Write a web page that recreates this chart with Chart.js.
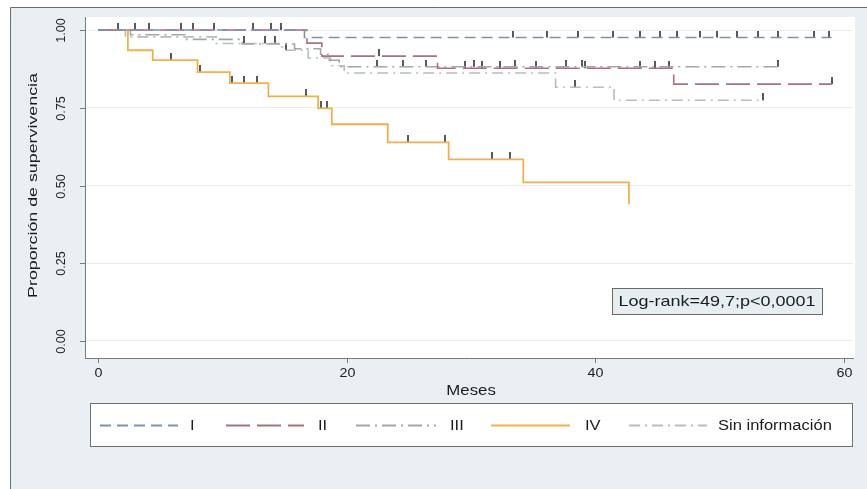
<!DOCTYPE html>
<html>
<head>
<meta charset="utf-8">
<script src="https://cdn.jsdelivr.net/npm/chart.js@4.4.1/dist/chart.umd.min.js"></script>
<style>
  html, body { margin: 0; padding: 0; background: #ffffff; }
  canvas { display: block; }
</style>
</head>
<body>
<canvas id="km" width="867" height="489"></canvas>
<script>
// Kaplan-Meier survival by stage: event times (months) and survival after each step
const stageLabels = ['I', 'II', 'III', 'IV', 'Sin información'];

const timesI = [0, 16.6, 59.0];
const survI  = [1, 0.976, 0.976];
const censI  = [1.6, 4.1, 6.7, 9.3, 12.5, 14.7, 33.4, 36.1, 38.6, 41.4, 43.6, 45.2, 46.6, 48.4, 49.8, 51.4, 53.1, 54.7, 57.6, 58.8];

const timesII = [0, 16.8, 18.0, 27.3, 46.3, 59.0];
const survII  = [1, 0.958, 0.916, 0.877, 0.826, 0.826];
const censII  = [3.0, 7.6, 13.9, 22.6, 29.5, 30.9, 32.3, 35.2, 39.2, 43.6, 44.8, 45.9, 59.0];

const timesIII = [0, 2.6, 7.0, 11.6, 15.8, 17.9, 18.6, 19.4, 54.7];
const survIII  = [1, 0.985, 0.970, 0.955, 0.940, 0.922, 0.903, 0.882, 0.882];
const censIII  = [22.4, 24.5, 26.4, 30.2, 33.5, 37.6, 38.9, 54.7];

const timesIV = [0, 2.4, 4.4, 8.0, 10.6, 13.7, 17.7, 18.8, 23.3, 28.2, 34.2, 42.7];
const survIV  = [1, 0.935, 0.903, 0.865, 0.829, 0.787, 0.748, 0.697, 0.639, 0.584, 0.510, 0.440];
const censIV  = [5.9, 8.2, 10.8, 11.7, 12.8, 16.7, 17.9, 18.4, 24.9, 27.9, 31.7, 33.1];

const timesSI = [0, 2.2, 9.5, 14.8, 16.9, 18.7, 19.8, 36.8, 41.5, 53.5];
const survSI  = [1, 0.978, 0.957, 0.935, 0.910, 0.885, 0.862, 0.816, 0.774, 0.774];
const censSI  = [11.7, 13.4, 14.2, 15.1, 38.4, 53.5];

const xTicks = [0, 20, 40, 60];
const yTicks = [0, 0.25, 0.5, 0.75, 1];
const yTickLabels = ['0.00', '0.25', '0.50', '0.75', '1.00'];
const xTitle = 'Meses';
const yTitle = 'Proporción de supervivencia';
const testText = 'Log-rank=49,7;p<0,0001';

// Styles per stage
const colors = ['#7d91ad', '#a8727a', '#9fa8ab', '#f0b052', '#b4bdc0'];
const dashes = [[11, 6], [24, 7], [14, 5, 2, 5], [], [11, 5, 2, 5]];

const series = [
  [timesI, survI, censI],
  [timesII, survII, censII],
  [timesIII, survIII, censIII],
  [timesIV, survIV, censIV],
  [timesSI, survSI, censSI]
];

function survAt(times, surv, t) {
  let s = surv[0];
  for (let i = 0; i < times.length; i++) if (times[i] <= t) s = surv[i];
  return s;
}

// Censoring tick: upper half of a short vertical bar, so it sits on top of the curve
const tick = document.createElement('canvas');
tick.width = 2; tick.height = 14;
(function () {
  const c = tick.getContext('2d');
  c.fillStyle = 'rgba(60,60,60,0.85)';
  c.fillRect(0, 0, 2, 7);
})();

const datasets = [];
series.forEach((s, i) => {
  datasets.push({
    label: stageLabels[i],
    data: s[0].map((t, k) => ({ x: t, y: s[1][k] })),
    borderColor: colors[i],
    borderWidth: i === 3 ? 1.8 : 1.6,
    borderDash: dashes[i],
    stepped: 'before',
    pointRadius: 0,
    fill: false
  });
});
series.forEach((s, i) => {
  datasets.push({
    label: stageLabels[i] + ' (censura)',
    data: s[2].map(t => ({ x: t, y: survAt(s[0], s[1], t) })),
    showLine: false,
    pointStyle: tick,
    pointRadius: 5,
    borderWidth: 0
  });
});

function txt(ctx, s, x, y, o) {
  o = o || {};
  ctx.save();
  ctx.translate(x, y);
  if (o.rot) ctx.rotate(o.rot);
  ctx.scale(o.sx || 1, 1);
  ctx.font = (o.size || 13) + 'px "Liberation Sans", Arial, sans-serif';
  ctx.textAlign = o.align || 'center';
  ctx.textBaseline = 'middle';
  ctx.fillStyle = o.color || '#1c1c1c';
  ctx.fillText(s, 0, 0);
  ctx.restore();
}

const frame = {
  id: 'frame',
  beforeDraw(chart) {
    const ctx = chart.ctx, a = chart.chartArea;
    ctx.save();
    ctx.fillStyle = '#ffffff';
    ctx.fillRect(0, 0, chart.width, chart.height);
    ctx.fillStyle = '#e9eff2';
    ctx.fillRect(10, 7, chart.width - 10, chart.height - 7);
    ctx.strokeStyle = '#6b6b6b';
    ctx.lineWidth = 1;
    ctx.beginPath();
    ctx.moveTo(10.5, chart.height);
    ctx.lineTo(10.5, 7.5);
    ctx.lineTo(chart.width, 7.5);
    ctx.stroke();
    ctx.fillStyle = '#ffffff';
    ctx.fillRect(a.left, a.top, a.right - a.left + 2, a.bottom - a.top);
    ctx.restore();
  },
  afterDraw(chart) {
    const ctx = chart.ctx, a = chart.chartArea;
    const xs = chart.scales.x, ys = chart.scales.y;
    ctx.save();
    ctx.strokeStyle = '#7a7a7a';
    ctx.lineWidth = 1;
    // tick marks and labels
    xTicks.forEach(v => {
      const px = Math.round(xs.getPixelForValue(v)) + 0.5;
      ctx.beginPath(); ctx.moveTo(px, a.bottom); ctx.lineTo(px, a.bottom + 5); ctx.stroke();
      txt(ctx, String(v), px, a.bottom + 15, { size: 13, sx: 1.1 });
    });
    yTicks.forEach((v, i) => {
      const py = Math.round(ys.getPixelForValue(v)) + 0.5;
      ctx.beginPath(); ctx.moveTo(a.left - 5, py); ctx.lineTo(a.left, py); ctx.stroke();
      txt(ctx, yTickLabels[i], a.left - 23, py, { size: 12, rot: -Math.PI / 2, sx: 1.05 });
    });
    txt(ctx, xTitle, (xs.getPixelForValue(0) + xs.getPixelForValue(60)) / 2, a.bottom + 33, { size: 14, sx: 1.2 });
    txt(ctx, yTitle, 33, (ys.getPixelForValue(0) + ys.getPixelForValue(1)) / 2, { size: 13.5, rot: -Math.PI / 2, sx: 1.32 });

    // test annotation
    ctx.fillStyle = '#e6eef1';
    ctx.fillRect(612, 288, 210, 26);
    ctx.strokeStyle = '#6a6a6a';
    ctx.strokeRect(612.5, 288.5, 210, 26);
    txt(ctx, testText, 717, 302, { size: 15, sx: 1.2 });

    // legend
    ctx.fillStyle = '#ffffff';
    ctx.fillRect(90, 403, 762, 43);
    ctx.strokeStyle = '#6f6f6f';
    ctx.strokeRect(90.5, 403.5, 762, 43);
    const lx = [[100, 178, 190], [226, 304, 318], [356, 436, 450], [491, 570, 585], [629, 707, 718]];
    lx.forEach((p, i) => {
      ctx.save();
      ctx.strokeStyle = colors[i];
      ctx.lineWidth = i === 3 ? 2 : 1.8;
      ctx.setLineDash(dashes[i]);
      ctx.beginPath(); ctx.moveTo(p[0], 425.5); ctx.lineTo(p[1], 425.5); ctx.stroke();
      ctx.restore();
      txt(ctx, stageLabels[i], p[2], 426, { size: 14, align: 'left', sx: 1.18 });
    });
    ctx.restore();
  }
};

new Chart(document.getElementById('km'), {
  type: 'line',
  data: { datasets },
  options: {
    responsive: false,
    animation: false,
    devicePixelRatio: 1,
    layout: { padding: { left: 85, top: 17, right: 14, bottom: 131 } },
    plugins: { legend: { display: false }, tooltip: { enabled: false } },
    scales: {
      x: {
        type: 'linear', min: -1.05, max: 60.72,
        grid: { display: false, drawTicks: false },
        border: { display: true, color: '#7a7a7a', width: 1 },
        ticks: { display: false }
      },
      y: {
        type: 'linear', min: -0.0548, max: 1.042,
        afterBuildTicks(scale) { scale.ticks = yTicks.map(v => ({ value: v })); },
        grid: { display: true, drawTicks: false, color: '#ebebeb', lineWidth: 1 },
        border: { display: true, color: '#7a7a7a', width: 1 },
        ticks: { display: false }
      }
    }
  },
  plugins: [frame]
});
</script>
</body>
</html>
